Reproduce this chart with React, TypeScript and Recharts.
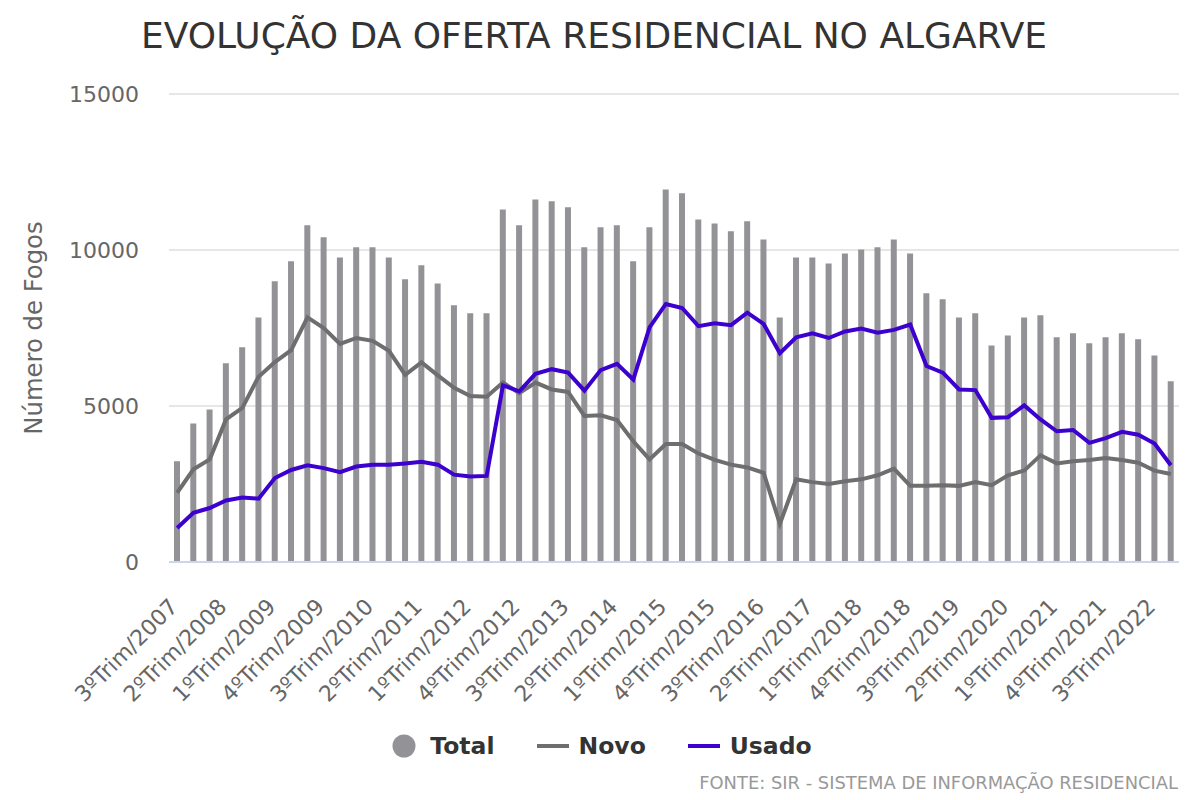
import React from 'react';
import { ComposedChart, Bar, Line, XAxis, YAxis, CartesianGrid, Legend } from 'recharts';

const quarters = [
  '3ºTrim/2007', '4ºTrim/2007',
  '1ºTrim/2008', '2ºTrim/2008', '3ºTrim/2008', '4ºTrim/2008',
  '1ºTrim/2009', '2ºTrim/2009', '3ºTrim/2009', '4ºTrim/2009',
  '1ºTrim/2010', '2ºTrim/2010', '3ºTrim/2010', '4ºTrim/2010',
  '1ºTrim/2011', '2ºTrim/2011', '3ºTrim/2011', '4ºTrim/2011',
  '1ºTrim/2012', '2ºTrim/2012', '3ºTrim/2012', '4ºTrim/2012',
  '1ºTrim/2013', '2ºTrim/2013', '3ºTrim/2013', '4ºTrim/2013',
  '1ºTrim/2014', '2ºTrim/2014', '3ºTrim/2014', '4ºTrim/2014',
  '1ºTrim/2015', '2ºTrim/2015', '3ºTrim/2015', '4ºTrim/2015',
  '1ºTrim/2016', '2ºTrim/2016', '3ºTrim/2016', '4ºTrim/2016',
  '1ºTrim/2017', '2ºTrim/2017', '3ºTrim/2017', '4ºTrim/2017',
  '1ºTrim/2018', '2ºTrim/2018', '3ºTrim/2018', '4ºTrim/2018',
  '1ºTrim/2019', '2ºTrim/2019', '3ºTrim/2019', '4ºTrim/2019',
  '1ºTrim/2020', '2ºTrim/2020', '3ºTrim/2020', '4ºTrim/2020',
  '1ºTrim/2021', '2ºTrim/2021', '3ºTrim/2021', '4ºTrim/2021',
  '1ºTrim/2022', '2ºTrim/2022', '3ºTrim/2022', '4ºTrim/2022',
];

const totalValues = [
  3230, 4440, 4890, 6370, 6880, 7840, 9000, 9640, 10790, 10410,
  9760, 10090, 10090, 9760, 9060, 9510, 8930, 8230, 7970, 7970,
  11300, 10790, 11620, 11560, 11370, 10090, 10730, 10790, 9640, 10730,
  11940, 11820, 10980, 10850, 10600, 10920, 10340, 7840, 9760, 9760,
  9570, 9890, 10020, 10090, 10340, 9890, 8610, 8420, 7840, 7970,
  6940, 7260, 7840, 7910, 7200, 7330, 7010, 7200, 7330, 7140,
  6620, 5790,
];

const novoValues = [
  2220, 2970, 3290, 4570, 4940, 5940, 6410, 6790, 7840, 7500,
  6990, 7180, 7090, 6770, 6000, 6400, 5980, 5580, 5320, 5300,
  5750, 5410, 5750, 5530, 5450, 4680, 4700, 4550, 3870, 3290,
  3780, 3780, 3480, 3270, 3120, 3030, 2860, 1220, 2650, 2560,
  2500, 2590, 2650, 2780, 2990, 2440, 2440, 2460, 2440, 2560,
  2460, 2780, 2930, 3420, 3160, 3230, 3270, 3330, 3270, 3180,
  2930, 2820,
];

const usadoValues = [
  1090, 1580, 1730, 1970, 2070, 2030, 2690, 2950, 3100, 3010,
  2880, 3060, 3120, 3120, 3160, 3210, 3120, 2800, 2740, 2760,
  5660, 5470, 6030, 6180, 6070, 5490, 6150, 6350, 5850, 7520,
  8270, 8140, 7560, 7650, 7590, 7990, 7630, 6690, 7200, 7330,
  7180, 7390, 7480, 7350, 7440, 7610, 6280, 6070, 5530, 5510,
  4620, 4640, 5020, 4570, 4190, 4230, 3820, 3970, 4170, 4080,
  3800, 3100,
];

const yTicks = [0, 5000, 10000, 15000];

const seriesNames = { total: 'Total', novo: 'Novo', usado: 'Usado' };
const colors = { total: '#939397', novo: '#6e6e6e', usado: '#3c00cf' };

const data = quarters.map((q, i) => ({
  q,
  total: totalValues[i],
  novo: novoValues[i],
  usado: usadoValues[i],
}));

const FONT = '"DejaVu Sans", sans-serif';

const XTick = (props: any) => {
  const { x, y, payload } = props;
  const ax = x + 2;
  const ay = y + 46;
  return (
    <text
      x={ax}
      y={ay}
      transform={`rotate(-45, ${ax}, ${ay})`}
      textAnchor="end"
      fill="#666666"
      fontSize={22}
      fontFamily={FONT}
    >
      {payload.value}
    </text>
  );
};

const YTick = (props: any) => {
  const { x, y, payload } = props;
  return (
    <text x={x} y={y} dy="0.355em" textAnchor="end" fill="#666666" fontSize={22} fontFamily={FONT}>
      {payload.value}
    </text>
  );
};

const legendItems = [
  { key: 'total', type: 'circle' },
  { key: 'novo', type: 'line' },
  { key: 'usado', type: 'line' },
] as const;

const renderLegend = () => (
  <div
    style={{
      display: 'flex',
      justifyContent: 'center',
      alignItems: 'center',
      gap: 42,
      fontFamily: FONT,
      fontWeight: 'bold',
      fontSize: 23.5,
      color: '#333333',
      height: 28,
    }}
  >
    {legendItems.map((it) => (
      <div key={it.key} style={{ display: 'flex', alignItems: 'center' }}>
        <svg width={32} height={24} style={{ display: 'block' }}>
          {it.type === 'circle' ? (
            <circle cx={16} cy={12} r={11.5} fill={(colors as any)[it.key]} />
          ) : (
            <line x1={0} y1={12} x2={32} y2={12} stroke={(colors as any)[it.key]} strokeWidth={4} />
          )}
        </svg>
        <span style={{ marginLeft: 10, lineHeight: '28px' }}>{(seriesNames as any)[it.key]}</span>
      </div>
    ))}
  </div>
);

const YLabel = () => (
  <text
    x={33}
    y={328}
    transform="rotate(-90, 33, 328)"
    textAnchor="middle"
    dominantBaseline="central"
    fill="#666666"
    fontSize={24.3}
    fontFamily={FONT}
  >
    Número de Fogos
  </text>
);

export default function App() {
  return (
    <div style={{ position: 'absolute', left: 0, top: 0, width: 1200, height: 800, background: '#ffffff' }}>
      <div
        style={{
          position: 'absolute',
          left: 0,
          top: 14,
          width: 1188,
          textAlign: 'center',
          fontFamily: FONT,
          fontSize: 36,
          color: '#333333',
          lineHeight: '44px',
          whiteSpace: 'nowrap',
        }}
      >
        EVOLUÇÃO DA OFERTA RESIDENCIAL NO ALGARVE
      </div>
      <ComposedChart
        width={1200}
        height={800}
        data={data}
        margin={{ top: 94, right: 21, bottom: 0, left: 0 }}
        barCategoryGap={0}
      >
        <CartesianGrid vertical={false} stroke="#e6e6e6" strokeWidth={2} />
        <XAxis
          dataKey="q"
          interval={2}
          height={238}
          tickSize={0}
          tickMargin={0}
          tickLine={false}
          axisLine={{ stroke: '#ccd6eb', strokeWidth: 2 }}
          tick={<XTick />}
        />
        <YAxis
          width={169}
          domain={[0, 15000]}
          ticks={yTicks}
          tickSize={0}
          tickMargin={30}
          tickLine={false}
          axisLine={false}
          tick={<YTick />}
          label={<YLabel />}
        />
        <Legend
          verticalAlign="middle"
          align="center"
          layout="horizontal"
          content={renderLegend}
          wrapperStyle={{ position: 'absolute', left: 0, top: 732, width: 1200, height: 28 }}
        />
        <Bar dataKey="total" name={seriesNames.total} fill={colors.total} barSize={6} isAnimationActive={false} />
        <Line
          type="linear"
          dataKey="novo"
          name={seriesNames.novo}
          stroke={colors.novo}
          strokeWidth={4}
          dot={false}
          activeDot={false}
          isAnimationActive={false}
        />
        <Line
          type="linear"
          dataKey="usado"
          name={seriesNames.usado}
          stroke={colors.usado}
          strokeWidth={4}
          dot={false}
          activeDot={false}
          isAnimationActive={false}
        />
      </ComposedChart>
      <div
        style={{
          position: 'absolute',
          right: 22,
          top: 772,
          fontFamily: FONT,
          fontSize: 17.9,
          color: '#999999',
          lineHeight: '22px',
          whiteSpace: 'nowrap',
        }}
      >
        FONTE: SIR - SISTEMA DE INFORMAÇÃO RESIDENCIAL
      </div>
    </div>
  );
}
